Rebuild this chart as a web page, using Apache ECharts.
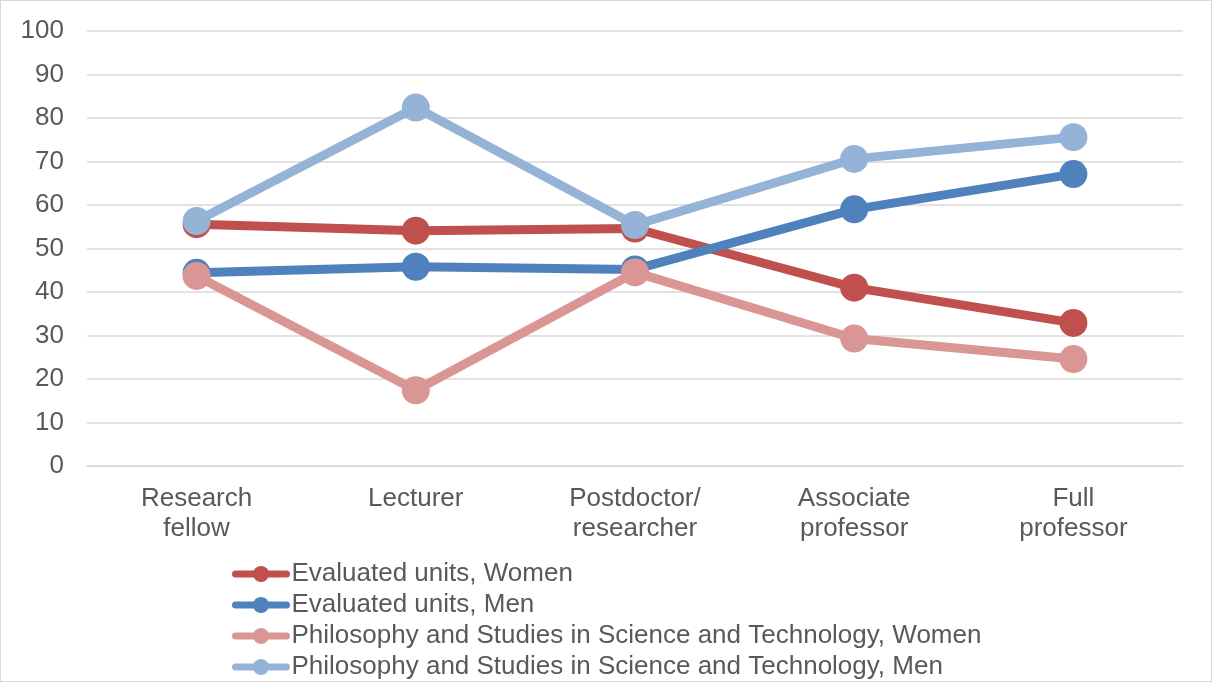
<!DOCTYPE html>
<html><head><meta charset="utf-8">
<script src="https://cdn.jsdelivr.net/npm/echarts@6/dist/echarts.min.js"></script>
<style>html,body{margin:0;padding:0;background:#fff}#c{width:1212px;height:682px;box-sizing:border-box;border:1px solid #d9d9d9}</style>
</head><body><div id="c"></div>
<script>
const categories = ['Research\nfellow', 'Lecturer', 'Postdoctor/\nresearcher', 'Associate\nprofessor', 'Full\nprofessor'];
const evalWomen = [55.6, 54.1, 54.6, 41.0, 32.9];
const evalMen = [44.4, 45.8, 45.2, 59.0, 67.1];
const philWomen = [43.7, 17.4, 44.5, 29.3, 24.6];
const philMen = [56.3, 82.4, 55.4, 70.6, 75.6];
const seriesNames = ['Evaluated units, Women', 'Evaluated units, Men', 'Philosophy and Studies in Science and Technology, Women', 'Philosophy and Studies in Science and Technology, Men'];
const colors = ['#C0504D', '#4F81BD', '#D99694', '#95B3D7'];
const dataSets = [evalWomen, evalMen, philWomen, philMen];

const chart = echarts.init(document.getElementById('c'), null, {renderer: 'canvas'});
const font = 'Liberation Sans, Arial, sans-serif';
chart.setOption({
  animation: false,
  color: colors,
  grid: {left: 86, right: 28, top: 30, bottom: 215, containLabel: false},
  legend: {
    orient: 'vertical', left: 231, top: 560, height: 130, padding: 0,
    itemWidth: 51, itemHeight: 20, itemGap: 5,
    data: seriesNames,
    lineStyle: {width: 7, cap: 'round'},
    textStyle: {fontFamily: font, fontSize: 26, color: '#595959'}
  },
  xAxis: {
    type: 'category', data: categories, boundaryGap: true,
    axisLine: {show: true, lineStyle: {color: '#d9d9d9', width: 1.5}},
    axisTick: {show: false},
    axisLabel: {fontFamily: font, fontSize: 26, color: '#595959', margin: 18, lineHeight: 30}
  },
  yAxis: {
    type: 'value', min: 0, max: 100, interval: 10,
    axisLine: {show: false}, axisTick: {show: false},
    splitLine: {lineStyle: {color: '#d9d9d9', width: 1.5}},
    axisLabel: {fontFamily: font, fontSize: 26, color: '#595959', margin: 23}
  },
  series: dataSets.map((d, i) => ({
    name: seriesNames[i], type: 'line', data: d,
    symbol: 'circle', symbolSize: 28,
    lineStyle: {width: 9, color: colors[i]},
    itemStyle: {color: colors[i]}
  }))
});
</script></body></html>
